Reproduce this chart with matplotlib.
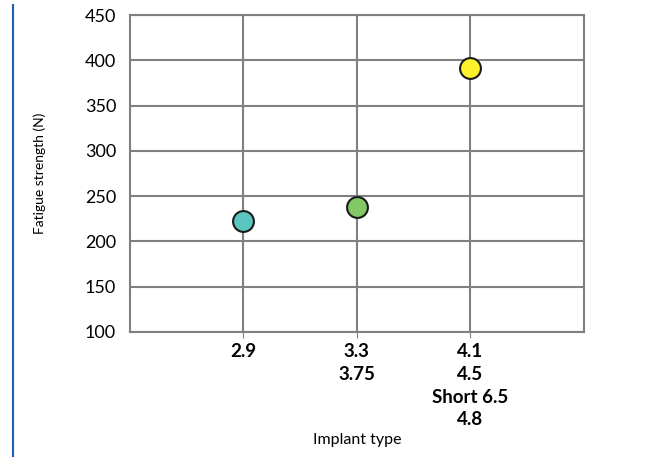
import matplotlib
matplotlib.use("Agg")
import matplotlib.pyplot as plt
from matplotlib.lines import Line2D

# fatigue strength per implant group
categories = ["2.9", "3.3\n3.75", "4.1\n4.5\nShort 6.5\n4.8"]
strength = [223, 238, 392]
colors = ["#5cc5c0", "#82c865", "#fff22a"]

plt.rcParams['font.family'] = ['Lato', 'DejaVu Sans']

fig = plt.figure(figsize=(6.48, 4.62), dpi=100)
ax = fig.add_axes([0.2006, 0.2814, 0.70, 0.6861])

x = list(range(1, len(categories) + 1))
for xi, yi, c in zip(x, strength, colors):
    ax.plot(xi, yi, 'o', ms=15, mfc=c, mec='#1a1a1a', mew=1.5, zorder=5, clip_on=False)

ax.set_xlim(0, 4)
ax.set_ylim(100, 450)
ax.set_yticks(range(100, 451, 50))
ax.set_xticks(x)
ax.set_xticklabels(categories, fontweight='bold', fontsize=13.5, linespacing=1.41, va='top')
ax.tick_params(axis='y', length=0, labelsize=13, pad=10)
ax.tick_params(axis='x', length=4, color='#808080', pad=4)

ax.grid(True, color='#808080', linewidth=1.5)
for s in ax.spines.values():
    s.set_color('#808080')
    s.set_linewidth(1.5)
ax.set_axisbelow(True)

ax.set_ylabel('Fatigue strength (N)', fontsize=10, labelpad=28)
fig.text(357 / 648, 0.047, 'Implant type', ha='center', va='center', fontsize=11.5)

# blue rule at left edge
fig.add_artist(Line2D([0.0193, 0.0193], [0.012, 0.99], color='#1f5fb4', lw=1.5))

fig.savefig('out.png', dpi=100)
